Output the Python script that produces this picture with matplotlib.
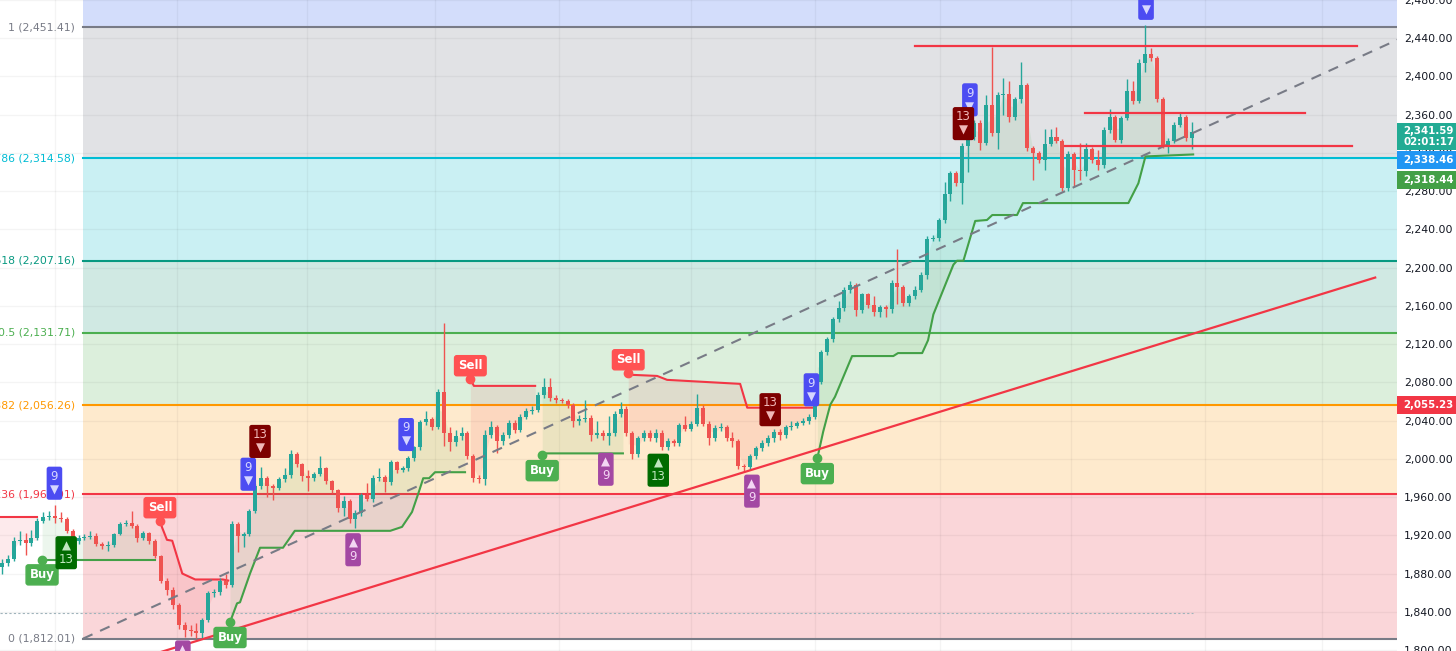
import matplotlib
matplotlib.use("Agg")
import matplotlib.pyplot as plt
from matplotlib.patches import Rectangle
import numpy as np

# candle data (open of each candle = previous close)
first_open = 1887.4
closes = [1891.6, 1895.7, 1914.4, 1915.4, 1912.3, 1917.5, 1935.2, 1939.3, 1940.4, 1938.3,
          1937.3, 1924.8, 1914.4, 1917.5, 1918.6, 1919.6, 1911.3, 1909.2, 1910.2, 1921.7,
          1932.1, 1933.1, 1930.0, 1917.5, 1922.7, 1914.4, 1898.8, 1872.8, 1862.4, 1846.9,
          1826.1, 1820.9, 1819.8, 1817.8, 1831.3, 1859.3, 1860.4, 1872.8, 1867.7, 1932.1,
          1919.6, 1921.7, 1945.5, 1971.5, 1979.8, 1971.5, 1969.5, 1978.8, 1983.0, 2004.8,
          1994.4, 1981.9, 1979.8, 1984.0, 1990.2, 1976.7, 1967.4, 1948.7, 1955.9, 1937.3,
          1943.5, 1962.2, 1958.0, 1979.8, 1980.9, 1975.7, 1996.5, 1988.2, 1990.2, 2000.7,
          2012.0, 2039.0, 2042.2, 2033.9, 2070.2, 2026.6, 2017.2, 2023.5, 2026.6, 2002.7,
          1979.8, 1978.8, 2025.5, 2033.9, 2018.3, 2025.5, 2038.0, 2030.7, 2044.3, 2050.5,
          2051.5, 2067.1, 2075.4, 2064.0, 2061.9, 2060.8, 2056.7, 2040.1, 2042.2, 2043.2,
          2025.5, 2027.6, 2023.5, 2026.6, 2047.4, 2052.6, 2026.6, 2004.8, 2021.4, 2027.6,
          2021.4, 2027.6, 2012.0, 2018.3, 2016.2, 2035.9, 2031.8, 2037.0, 2053.6, 2037.0,
          2022.4, 2032.8, 2033.9, 2022.4, 2018.3, 1992.3, 1991.3, 2002.7, 2011.0, 2016.2,
          2021.4, 2028.6, 2024.5, 2033.9, 2034.9, 2038.0, 2040.1, 2044.3, 2080.6, 2111.7,
          2125.3, 2146.0, 2157.5, 2177.2, 2181.4, 2155.4, 2172.0, 2160.6, 2153.3, 2158.5,
          2156.4, 2184.5, 2179.3, 2162.7, 2169.9, 2177.2, 2192.8, 2230.2, 2231.2, 2249.9,
          2276.9, 2298.7, 2288.3, 2327.8, 2337.2, 2351.7, 2330.9, 2370.4, 2341.3, 2380.8,
          2381.8, 2357.9, 2376.6, 2391.2, 2324.7, 2319.5, 2312.2, 2329.9, 2337.2, 2333.0,
          2283.1, 2318.5, 2301.9, 2300.8, 2323.7, 2312.2, 2307.0, 2344.4, 2357.9, 2334.0,
          2356.9, 2384.9, 2374.5, 2414.0, 2423.4, 2419.2, 2376.6, 2327.8, 2333.0, 2349.6,
          2357.9, 2336.1, 2341.59]
highs = [1895, 1899, 1918, 1925, 1923, 1926, 1938, 1944, 1946, 1952,
         1944, 1939, 1927, 1920, 1921, 1925, 1922, 1913, 1914, 1923,
         1934, 1936, 1946, 1932, 1925, 1924, 1916, 1900, 1875, 1866,
         1849, 1829, 1826, 1828, 1834, 1862, 1864, 1875, 1880, 1935,
         1934, 1924, 1948, 1974, 1992, 1982, 1974, 1981, 1990, 2009,
         2007, 1996, 1988, 1986, 2003, 1992, 1978, 1969, 1961, 1958,
         1947, 1964, 1975, 1983, 1990, 1983, 1999, 1998, 1993, 2003,
         2014, 2041, 2050, 2044, 2073, 2142, 2033, 2030, 2033, 2029,
         2005, 1983, 2030, 2040, 2036, 2028, 2041, 2041, 2047, 2053,
         2055, 2070, 2085, 2085, 2067, 2064, 2063, 2059, 2046, 2062,
         2046, 2040, 2030, 2045, 2050, 2060, 2055, 2029, 2024, 2030,
         2030, 2031, 2030, 2022, 2021, 2038, 2045, 2040, 2068, 2056,
         2040, 2035, 2038, 2036, 2028, 2021, 1995, 2005, 2013, 2020,
         2025, 2031, 2031, 2036, 2040, 2040, 2043, 2047, 2083, 2114,
         2128, 2148, 2165, 2180, 2186, 2184, 2174, 2174, 2170, 2161,
         2161, 2187, 2220, 2182, 2172, 2181, 2195, 2233, 2234, 2252,
         2290, 2301, 2301, 2330, 2340, 2354, 2354, 2381, 2431, 2384,
         2398, 2395, 2379, 2415, 2393, 2327, 2322, 2345, 2345, 2347,
         2335, 2322, 2321, 2330, 2330, 2326, 2323, 2347, 2366, 2360,
         2359, 2397, 2395, 2418, 2454, 2430, 2421, 2379, 2336, 2352,
         2362, 2360, 2352]
lows = [1880, 1888, 1893, 1910, 1900, 1909, 1915, 1933, 1936, 1933,
        1934, 1922, 1911, 1911, 1915, 1916, 1909, 1906, 1904, 1908,
        1920, 1930, 1928, 1913, 1915, 1911, 1896, 1870, 1858, 1843,
        1822, 1814, 1815, 1813, 1812, 1829, 1856, 1858, 1865, 1866,
        1903, 1908, 1919, 1943, 1969, 1960, 1957, 1967, 1976, 1980,
        1992, 1977, 1966, 1977, 1982, 1974, 1964, 1945, 1940, 1933,
        1928, 1940, 1956, 1955, 1977, 1965, 1973, 1985, 1986, 1987,
        1998, 2009, 2036, 2030, 2031, 2014, 2008, 2014, 2020, 2000,
        1976, 1975, 1973, 2022, 2006, 2015, 2022, 2027, 2028, 2042,
        2047, 2049, 2064, 2061, 2059, 2058, 2053, 2033, 2036, 2039,
        2019, 2022, 2020, 2015, 2024, 2044, 2024, 2000, 2002, 2019,
        2019, 2018, 2009, 2009, 2013, 2013, 2029, 2029, 2034, 2034,
        2015, 2019, 2029, 2019, 2012, 1989, 1986, 1988, 2000, 2008,
        2013, 2018, 2020, 2022, 2030, 2032, 2035, 2037, 2042, 2078,
        2109, 2122, 2143, 2155, 2174, 2150, 2153, 2158, 2150, 2148,
        2148, 2153, 2162, 2160, 2160, 2167, 2175, 2188, 2228, 2228,
        2247, 2270, 2285, 2267, 2300, 2334, 2323, 2328, 2338, 2324,
        2360, 2352, 2355, 2372, 2322, 2292, 2309, 2302, 2327, 2330,
        2280, 2280, 2285, 2292, 2296, 2309, 2302, 2304, 2341, 2331,
        2330, 2354, 2371, 2372, 2405, 2416, 2373, 2325, 2320, 2330,
        2347, 2333, 2324]

# fibonacci retracement levels
fib_ratios = ["1", "0.786", "0.618", "0.5", "0.382", "0.236", "0"]
fib_prices = [2451.41, 2314.58, 2207.16, 2131.71, 2056.26, 1962.91, 1812.01]
fib_colors = ["#787b86", "#00bcd4", "#089981", "#4caf50", "#ff9800", "#f23645", "#787b86"]
fib_fills = ["#e1e2e5", "#caf0f3", "#d0e9e3", "#dcefdc", "#feeacd", "#fad6d9"]
fib_start = 13.75
fib_end = 241.5

# supertrend segments: (trend, candle index knots, price knots)
supertrend = [
    ("down", [-1.0, 5.9], [1939.3, 1939.3]),
    ("up", [6.8, 26.0], [1894.7, 1894.7]),
    ("down", [26.8, 27.2, 28.0, 28.9, 30.6, 32.8, 37.5, 38.4],
     [1935.2, 1927.9, 1915.4, 1914.4, 1880.1, 1873.9, 1873.9, 1872.8]),
    ("up", [38.7, 39.9, 40.4, 42.1, 43.8, 47.7, 49.7, 65.9, 67.9, 69.6, 70.8, 71.5, 72.5, 73.5, 78.6],
     [1829.2, 1849.0, 1850.0, 1880.1, 1907.1, 1907.1, 1924.8, 1924.8, 1928.9, 1944.5, 1966.3,
      1979.8, 1979.8, 1986.1, 1986.1]),
    ("down", [79.5, 80.1, 90.5], [2083.7, 2076.4, 2076.4]),
    ("up", [91.7, 92.2, 105.4], [2003.7, 2005.8, 2005.8]),
    ("down", [106.3, 107.1, 111.2, 112.9, 125.3, 126.5, 137.5],
     [2089.9, 2087.9, 2086.8, 2082.7, 2078.5, 2053.6, 2053.6]),
    ("up", [138.4, 139.4, 140.6, 141.4, 144.3, 151.3, 152.1, 156.2, 157.2, 158.1, 161.5, 162.1,
            163.2, 165.2, 167.2, 168.1, 172.3, 173.3, 191.2, 192.9, 194.1, 202.2],
     [2000.6, 2028.6, 2056.7, 2065.0, 2107.6, 2107.6, 2110.7, 2110.7, 2124.2, 2151.2, 2203.2,
      2207.3, 2207.3, 2248.9, 2249.9, 2255.1, 2255.1, 2267.6, 2267.6, 2288.3, 2316.4, 2318.44]),
]

# buy / sell signals (candle index, price of the dot)
sig_x = [6.8, 26.8, 38.7, 79.5, 91.7, 106.3, 138.4]
sig_price = [1894.7, 1935.2, 1829.2, 2083.7, 2003.7, 2089.9, 2000.6]
sig_text = ["Buy", "Sell", "Buy", "Sell", "Buy", "Sell", "Buy"]

# TD sequential labels (candle index, box centre price, text, kind)
td_x = [8.9, 41.8, 68.6, 137.4, 164.3, 194.2, 43.8, 130.4, 163.2, 30.7, 59.6, 102.5, 127.3, 10.9, 111.4]
td_price = [1974.6, 1984.0, 2025.5, 2072.3, 2375.6, 2476.5, 2018.3, 2051.5, 2350.7,
            1792.9, 1905.0, 1989.2, 1966.3, 1901.9, 1988.2]
td_text = ["9\n▼"] * 6 + ["13\n▼"] * 3 + ["▲\n9"] * 4 + ["▲\n13"] * 2
td_kind = ["sell9"] * 6 + ["sell13"] * 3 + ["buy9"] * 4 + ["buy13"] * 2

# drawn lines
trend_x = [25.1, 233.1]
trend_y = [1794.5, 2189.7]
res_x0 = [155.0, 183.9, 180.5]
res_x1 = [230.0, 221.1, 229.2]
res_y = [2432.0, 2362.1, 2327.1]
dotted_price = 1838.5

# right scale tags
tags = [("2,341.59\n02:01:17", "#22ab94"), ("2,338.46", "#2196f3"),
        ("2,318.44", "#43a047"), ("2,055.23", "#f23645")]

UP = "#26a69a"
DOWN = "#ef5350"

closes = np.array(closes)
opens = np.r_[first_open, closes[:-1]]
highs = np.array(highs, dtype=float)
lows = np.array(lows, dtype=float)
idx = np.arange(len(closes))

fig = plt.figure(figsize=(14.56, 6.51), dpi=100)
fig.patch.set_facecolor("white")
ax = fig.add_axes([0, 0, 1397 / 1456, 1])
ax.set_facecolor("white")
xmin, xmax = -0.34, 236.8
ymin, ymax = 1799.1, 2475.3
ax.set_xlim(xmin, xmax)
ax.set_ylim(ymin, ymax)

# fib background bands
ax.add_patch(Rectangle((fib_start, fib_prices[0]), xmax + 5 - fib_start, ymax + 10 - fib_prices[0],
                       fc="#d3ddfb", ec="none", zorder=0))
for i in range(len(fib_fills)):
    ax.add_patch(Rectangle((fib_start, fib_prices[i + 1]), xmax + 5 - fib_start,
                           fib_prices[i] - fib_prices[i + 1], fc=fib_fills[i], ec="none", zorder=0))

# grid
for v in [9.0, 29.7, 51.8, 73.5, 94.6, 117.0, 138.0, 159.3, 181.4, 204.2, 224.1]:
    ax.axvline(v, color="#000000", alpha=0.045, lw=1, zorder=0.5)
for v in range(1800, 2481, 40):
    ax.axhline(v, color="#000000", alpha=0.045, lw=1, zorder=0.5)

# fib lines and labels
for r, p, c in zip(fib_ratios, fib_prices, fib_colors):
    ax.plot([fib_start, xmax + 5], [p, p], color=c, lw=1.5, zorder=1)
    ax.text(12.4, p, f"{r} ({p:,.2f})", color=c, fontsize=7.8, ha="right", va="center",
            zorder=5, clip_on=False)

ax.plot([xmin, 202.2], [dotted_price, dotted_price], color="#9fb3bb", lw=0.8, ls=(0, (2, 2)), zorder=1)

# supertrend fills and lines
mids = (opens + closes) / 2
for kind, xs, ys in supertrend:
    col = "#43a047" if kind == "up" else "#f23645"
    fcol = "#4caf50" if kind == "up" else "#f23645"
    ii = idx[(idx >= xs[0]) & (idx <= xs[-1])]
    if len(ii):
        xx = np.r_[xs[0], ii, xs[-1]]
        st = np.interp(xx, xs, ys)
        mm = np.r_[mids[ii[0]], mids[ii], mids[ii[-1]]]
        ax.fill_between(xx, st, mm, color=fcol, alpha=0.10, lw=0, zorder=1.5)
    ax.plot(xs, ys, color=col, lw=1.5, zorder=3, solid_joinstyle="round")

# candles
colors = np.where(closes >= opens, UP, DOWN)
ax.vlines(idx, lows, highs, colors=colors, lw=1, zorder=4)
body_lo = np.minimum(opens, closes)
body_h = np.maximum(np.abs(closes - opens), 0.9)
ax.bar(idx, body_h, bottom=body_lo, width=0.68, color=colors, lw=0, zorder=4.5)

# trend lines
ax.plot([fib_start, fib_end], [fib_prices[-1], fib_prices[0]], color="#787b86", lw=1.5,
        ls=(0, (5, 4)), zorder=5)
ax.plot(trend_x, trend_y, color="#f23645", lw=1.6, zorder=5)
for x0, x1, y in zip(res_x0, res_x1, res_y):
    ax.plot([x0, x1], [y, y], color="#f23645", lw=1.6, zorder=5)

# buy / sell labels
for x, p, t in zip(sig_x, sig_price, sig_text):
    col = "#4caf50" if t == "Buy" else "#ff5252"
    ax.plot(x, p, "o", ms=6, color=col, zorder=6)
    off = -11 if t == "Buy" else 9.5
    ax.annotate(t, (x, p), xytext=(0, off), textcoords="offset points", ha="center", va="center",
                fontsize=8.5, fontweight="bold", color="white", zorder=7,
                bbox=dict(boxstyle="round,pad=0.3,rounding_size=0.2", fc=col, ec=col))

# TD sequential labels
td_style = {"sell9": ("#4c4cf2", "#d6d6ff"), "sell13": ("#7d0000", "#f0b8b8"),
            "buy9": ("#a348a3", "#f3d6f3"), "buy13": ("#006b00", "#bfe6bf")}
for x, p, t, k in zip(td_x, td_price, td_text, td_kind):
    fc, tc = td_style[k]
    ax.text(x, p, t, ha="center", va="center", fontsize=8.5, color=tc, linespacing=1.05,
            zorder=7, bbox=dict(boxstyle="round,pad=0.22,rounding_size=0.15", fc=fc, ec=fc))

# right price scale
ax.yaxis.tick_right()
ticks = list(range(1800, 2481, 40))
ax.set_yticks(ticks)
ax.set_yticklabels([f"{v:,.2f}" for v in ticks], fontsize=7.8, color="#131722")
ax.tick_params(axis="y", length=0, pad=5)
ax.set_xticks([])
for s in ax.spines.values():
    s.set_visible(False)

tag_pos = [(0.7905, 0.0415), (0.7545, 0.0277), (0.7235, 0.0277), (0.378, 0.0277)]
w = 59 / 1397
for (txt, col), (yc, h) in zip(tags, tag_pos):
    ax.add_patch(Rectangle((1.0, yc - h / 2), w, h, transform=ax.transAxes, fc=col, ec="none",
                           clip_on=False, zorder=8))
    ax.text(1.0 + 6 / 1397, yc, txt, transform=ax.transAxes, ha="left", va="center", fontsize=7.4,
            fontweight="bold", color="white", linespacing=1.05, clip_on=False, zorder=9)

fig.savefig("out.png", dpi=100)
